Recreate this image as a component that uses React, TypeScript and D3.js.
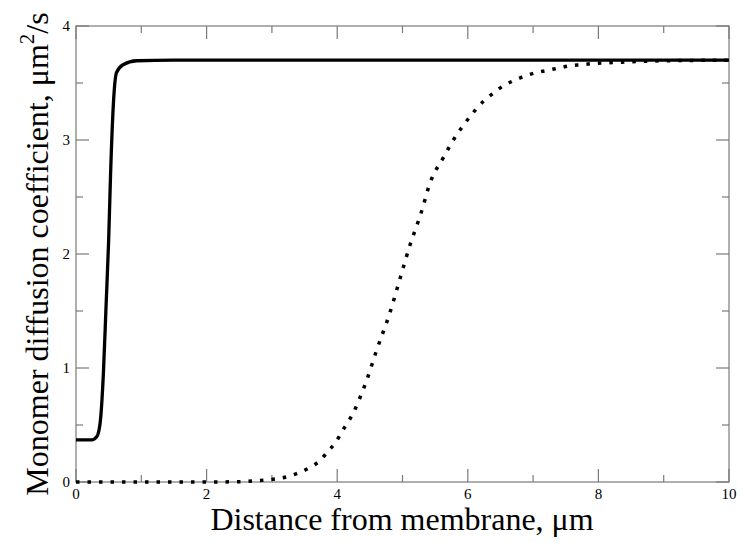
import * as d3 from 'd3'
import { useEffect, useRef } from 'react'

// solid curve: near-membrane profile
const solidX = [0, 0.24, 0.32, 0.37, 0.42, 0.46, 0.5, 0.53, 0.57, 0.62, 0.72, 0.93, 1.5, 10]
const solidY = [0.37, 0.37, 0.4, 0.52, 0.96, 1.54, 2.12, 2.71, 3.29, 3.59, 3.66, 3.695, 3.7, 3.7]

// dotted curve: wide profile
const dottedX = [
  0, 1, 2, 2.5, 2.73, 2.9, 3.09, 3.26, 3.43, 3.59, 3.74, 3.86, 3.98, 4.07, 4.16, 4.25, 4.32, 4.39,
  4.45, 4.6, 4.81, 4.96, 5.11, 5.29, 5.42, 5.63, 5.8, 6.0, 6.24, 6.39, 6.53, 6.7, 6.87, 7.04, 7.21,
  7.38, 7.55, 7.73, 7.91, 8.27, 8.45, 9, 10,
]
const dottedY = [
  0, 0, 0, 0.003, 0.01, 0.018, 0.03, 0.05, 0.085, 0.13, 0.19, 0.27, 0.35, 0.44, 0.52, 0.61, 0.7, 0.8,
  0.89, 1.15, 1.49, 1.78, 2.07, 2.37, 2.62, 2.85, 3.02, 3.18, 3.34, 3.41, 3.47, 3.52, 3.56, 3.59,
  3.61, 3.63, 3.65, 3.66, 3.67, 3.68, 3.685, 3.695, 3.7,
]

const xMajor = [0, 2, 4, 6, 8, 10]
const xMinor = [1, 3, 5, 7, 9]
const yMajor = [0, 1, 2, 3, 4]
const yMinor = [0.5, 1.5, 2.5, 3.5]

const W = 744
const H = 542
const m = { left: 76, right: 15, top: 26, bottom: 60 }

export default function App() {
  const svgRef = useRef<SVGSVGElement>(null)

  useEffect(() => {
    if (!svgRef.current) return
    const svg = d3.select(svgRef.current)
    svg.selectAll('*').remove()

    const x = d3.scaleLinear().domain([0, 10]).range([m.left, W - m.right])
    const y = d3.scaleLinear().domain([0, 4]).range([H - m.bottom, m.top])
    const [x0, x1] = x.range()
    const [y0, y1] = y.range()
    const axisColor = '#7a7a7a'

    // frame
    svg.append('rect')
      .attr('x', x0).attr('y', y1)
      .attr('width', x1 - x0).attr('height', y0 - y1)
      .attr('fill', 'none').attr('stroke', axisColor).attr('stroke-width', 1.2)

    const tick = (x1_: number, y1_: number, x2_: number, y2_: number) =>
      svg.append('line')
        .attr('x1', x1_).attr('y1', y1_).attr('x2', x2_).attr('y2', y2_)
        .attr('stroke', axisColor).attr('stroke-width', 1.2)

    const major = 13
    const minor = 7
    xMajor.forEach((v) => { tick(x(v), y0, x(v), y0 - major); tick(x(v), y1, x(v), y1 + major) })
    xMinor.forEach((v) => { tick(x(v), y0, x(v), y0 - minor); tick(x(v), y1, x(v), y1 + minor) })
    yMajor.forEach((v) => { tick(x0, y(v), x0 + major, y(v)); tick(x1, y(v), x1 - major, y(v)) })
    yMinor.forEach((v) => { tick(x0, y(v), x0 + minor, y(v)); tick(x1, y(v), x1 - minor, y(v)) })

    const font = '"Liberation Serif", "Times New Roman", serif'

    svg.append('g').selectAll('text').data(xMajor).join('text')
      .attr('x', (d) => x(d)).attr('y', y0 + 17)
      .attr('text-anchor', 'middle')
      .attr('font-family', font).attr('font-size', 15)
      .text((d) => d)

    svg.append('g').selectAll('text').data(yMajor).join('text')
      .attr('x', x0 - 6).attr('y', (d) => y(d) + 5)
      .attr('text-anchor', 'end')
      .attr('font-family', font).attr('font-size', 15)
      .text((d) => d)

    // curves
    const line = d3.line<[number, number]>()
      .x((d) => x(d[0])).y((d) => y(d[1]))
      .curve(d3.curveMonotoneX)

    svg.append('path')
      .datum(dottedX.map((v, i) => [v, dottedY[i]] as [number, number]))
      .attr('d', line)
      .attr('fill', 'none').attr('stroke', '#000')
      .attr('stroke-width', 3.5)
      .attr('stroke-dasharray', '3.5 8')

    svg.append('path')
      .datum(solidX.map((v, i) => [v, solidY[i]] as [number, number]))
      .attr('d', line)
      .attr('fill', 'none').attr('stroke', '#000')
      .attr('stroke-width', 3.3)
      .attr('stroke-linejoin', 'round')

    // axis titles
    svg.append('text')
      .attr('x', 402).attr('y', 530)
      .attr('text-anchor', 'middle')
      .attr('font-family', font).attr('font-size', 32)
      .text('Distance from membrane, μm')

    const yt = svg.append('text')
      .attr('transform', `translate(48, ${(y0 + y1) / 2}) rotate(-90)`)
      .attr('text-anchor', 'middle')
      .attr('font-family', font).attr('font-size', 32)
    yt.append('tspan').text('Monomer diffusion coefficient, μm')
    yt.append('tspan').attr('font-size', 21).attr('dy', -14).text('2')
    yt.append('tspan').attr('dy', 14).text('/s')
  }, [])

  return (
    <svg
      ref={svgRef}
      width={W}
      height={H}
      style={{ position: 'absolute', left: 0, top: 0, background: '#fff' }}
    />
  )
}
